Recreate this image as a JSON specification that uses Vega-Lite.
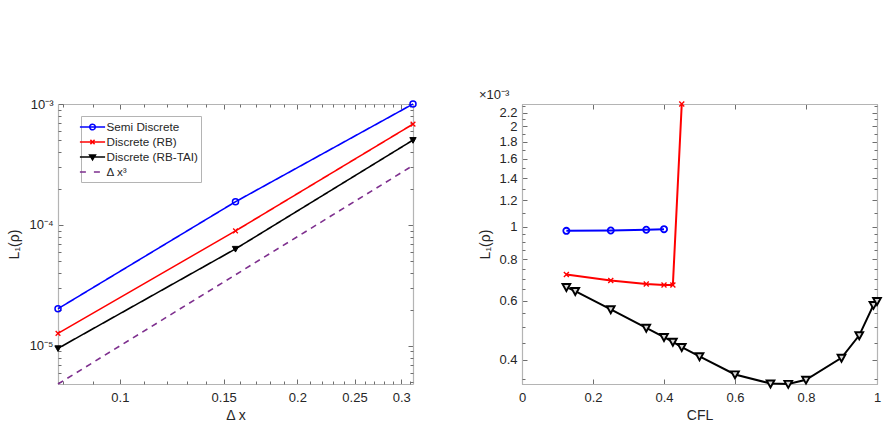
{
  "$schema": "https://vega.github.io/schema/vega-lite/v6.json",
  "background": "white",
  "padding": {"left": 7, "top": 88, "right": 5, "bottom": 5},
  "bounds": "flush",
  "spacing": 109,
  "config": {
    "view": {"stroke": null},
    "font": "Liberation Sans",
    "axis": {
      "grid": false,
      "labelFont": "Liberation Sans",
      "labelFontSize": 13,
      "labelColor": "#262626",
      "titleFont": "Liberation Sans",
      "titleFontSize": 14,
      "titleFontWeight": "normal",
      "titleColor": "#262626",
      "domainColor": "#b4b4b4",
      "domainWidth": 1.2,
      "tickColor": "#6e6e6e",
      "tickWidth": 1,
      "tickSize": -5,
      "labelPadding": 10,
      "labelFlush": false,
      "labelOverlap": false
    }
  },
  "datasets": {
    "convergence": [
      {"series": "Semi Discrete", "dx": 0.0785398, "L1": 0.0000203},
      {"series": "Semi Discrete", "dx": 0.1570796, "L1": 0.0001556},
      {"series": "Semi Discrete", "dx": 0.3141593, "L1": 0.0010000},
      {"series": "Discrete (RB)", "dx": 0.0785398, "L1": 0.0000127},
      {"series": "Discrete (RB)", "dx": 0.1570796, "L1": 0.0000893},
      {"series": "Discrete (RB)", "dx": 0.3141593, "L1": 0.000682},
      {"series": "Discrete (RB-TAI)", "dx": 0.0785398, "L1": 0.00000955},
      {"series": "Discrete (RB-TAI)", "dx": 0.1570796, "L1": 0.0000634},
      {"series": "Discrete (RB-TAI)", "dx": 0.3141593, "L1": 0.000503},
      {"series": "Δ x³", "dx": 0.0785398, "L1": 0.000004845},
      {"series": "Δ x³", "dx": 0.1570796, "L1": 0.00003876},
      {"series": "Δ x³", "dx": 0.3141593, "L1": 0.0003101}
    ],
    "stability": [
      {"series": "Semi Discrete", "cfl": 0.125, "L1": 0.000973},
      {"series": "Semi Discrete", "cfl": 0.25, "L1": 0.000975},
      {"series": "Semi Discrete", "cfl": 0.35, "L1": 0.000980},
      {"series": "Semi Discrete", "cfl": 0.4, "L1": 0.000984},
      {"series": "Discrete (RB)", "cfl": 0.125, "L1": 0.000720},
      {"series": "Discrete (RB)", "cfl": 0.25, "L1": 0.000691},
      {"series": "Discrete (RB)", "cfl": 0.35, "L1": 0.000674},
      {"series": "Discrete (RB)", "cfl": 0.4, "L1": 0.000669},
      {"series": "Discrete (RB)", "cfl": 0.425, "L1": 0.000669},
      {"series": "Discrete (RB)", "cfl": 0.45, "L1": 0.002335},
      {"series": "Discrete (RB-TAI)", "cfl": 0.125, "L1": 0.000660},
      {"series": "Discrete (RB-TAI)", "cfl": 0.15, "L1": 0.000642},
      {"series": "Discrete (RB-TAI)", "cfl": 0.25, "L1": 0.000566},
      {"series": "Discrete (RB-TAI)", "cfl": 0.35, "L1": 0.000498},
      {"series": "Discrete (RB-TAI)", "cfl": 0.4, "L1": 0.000467},
      {"series": "Discrete (RB-TAI)", "cfl": 0.425, "L1": 0.000452},
      {"series": "Discrete (RB-TAI)", "cfl": 0.45, "L1": 0.000436},
      {"series": "Discrete (RB-TAI)", "cfl": 0.5, "L1": 0.000409},
      {"series": "Discrete (RB-TAI)", "cfl": 0.6, "L1": 0.000361},
      {"series": "Discrete (RB-TAI)", "cfl": 0.7, "L1": 0.000339},
      {"series": "Discrete (RB-TAI)", "cfl": 0.75, "L1": 0.000338},
      {"series": "Discrete (RB-TAI)", "cfl": 0.8, "L1": 0.000348},
      {"series": "Discrete (RB-TAI)", "cfl": 0.9, "L1": 0.000405},
      {"series": "Discrete (RB-TAI)", "cfl": 0.95, "L1": 0.000473},
      {"series": "Discrete (RB-TAI)", "cfl": 0.99, "L1": 0.000583},
      {"series": "Discrete (RB-TAI)", "cfl": 1.0, "L1": 0.000599}
    ]
  },
  "hconcat": [
    {
      "width": 355,
      "height": 280,
      "data": {"name": "convergence"},
      "resolve": {"axis": {"x": "independent", "y": "independent"}},
      "layer": [
        {
          "mark": {"type": "line", "strokeWidth": 1.6},
          "encoding": {
            "x": {"field": "dx", "type": "quantitative",
                  "scale": {"type": "log", "domain": [0.0785398, 0.3141593], "nice": false, "zero": false},
                  "axis": {"orient": "bottom", "title": "Δ x", "values": [0.1, 0.15, 0.2, 0.25, 0.3], "format": "~g", "labelPadding": 12, "titlePadding": 4}},
            "y": {"field": "L1", "type": "quantitative",
                  "scale": {"type": "log", "domain": [0.000004845, 0.001], "nice": false, "zero": false},
                  "axis": {"orient": "left", "title": "L₁(ρ)", "values": [0.00001, 0.0001, 0.001],
                           "labelExpr": "datum.value > 0.0005 ? '10⁻³' : datum.value > 0.00005 ? '10⁻⁴' : '10⁻⁵'", "titlePadding": 7}},
            "color": {"field": "series", "type": "nominal",
                      "scale": {"domain": ["Semi Discrete", "Discrete (RB)", "Discrete (RB-TAI)", "Δ x³"],
                                "range": ["#0000ff", "#ff0000", "#000000", "#7e2f8e"]},
                      "legend": {
                        "orient": "none", "legendX": 23, "legendY": 12,
                        "title": null,
                        "direction": "vertical",
                        "fillColor": "white",
                        "strokeColor": "#b4b4b4",
                        "padding": 3,
                        "labelFont": "Liberation Sans",
                        "labelFontSize": 11.7,
                        "labelColor": "#262626",
                        "symbolSize": 196,
                        "symbolStrokeWidth": 1.5,
                        "symbolOffset": 0.5,
                        "labelOffset": 6,
                        "rowPadding": 0,
                        "encoding": {
                          "symbols": {
                            "shape": {"value": {"expr": "datum.value === 'Semi Discrete' ? 'M-1.8,0H1.8M-0.4,0A0.4,0.4 0 1,0 0.4,0A0.4,0.4 0 1,0 -0.4,0' : datum.value === 'Discrete (RB)' ? 'M-1.8,0H1.8M-0.3,-0.3L0.3,0.3M-0.3,0.3L0.3,-0.3' : datum.value === 'Discrete (RB-TAI)' ? 'M-1.8,0H1.8M-0.42,-0.3L0.42,-0.3L0,0.4Z' : 'M-1.8,0H1.8'"}},
                            "fill": {"value": {"expr": "datum.value === 'Discrete (RB-TAI)' ? '#000000' : 'transparent'"}},
                            "stroke": {"value": {"expr": "datum.value === 'Semi Discrete' ? '#0000ff' : datum.value === 'Discrete (RB)' ? '#ff0000' : datum.value === 'Discrete (RB-TAI)' ? '#000000' : '#7e2f8e'"}},
                            "strokeDash": {"value": {"expr": "datum.value === 'Δ x³' ? [6, 8] : [1, 0]"}},
                            "strokeWidth": {"value": 1.5},
                            "opacity": {"value": 1}
                          }
                        }
                      }},
            "strokeDash": {"field": "series", "type": "nominal",
                           "scale": {"domain": ["Semi Discrete", "Discrete (RB)", "Discrete (RB-TAI)", "Δ x³"],
                                     "range": [[1, 0], [1, 0], [1, 0], [6, 5]]},
                           "legend": null}
          }
        },
        {
          "transform": [{"filter": "datum.series === 'Semi Discrete'"}],
          "mark": {"type": "point", "shape": "circle", "filled": false, "stroke": "#0000ff", "strokeWidth": 1.5, "size": 36, "opacity": 1},
          "encoding": {
            "x": {"field": "dx", "type": "quantitative", "scale": {"type": "log", "domain": [0.0785398, 0.3141593], "nice": false, "zero": false}, "axis": null},
            "y": {"field": "L1", "type": "quantitative", "scale": {"type": "log", "domain": [0.000004845, 0.001], "nice": false, "zero": false}, "axis": null}
          }
        },
        {
          "transform": [{"filter": "datum.series === 'Discrete (RB)'"}],
          "mark": {"type": "point", "shape": "M-1,-1L1,1M-1,1L1,-1", "filled": false, "stroke": "#ff0000", "strokeWidth": 1.3, "size": 22, "opacity": 1},
          "encoding": {
            "x": {"field": "dx", "type": "quantitative", "scale": {"type": "log", "domain": [0.0785398, 0.3141593], "nice": false, "zero": false}, "axis": null},
            "y": {"field": "L1", "type": "quantitative", "scale": {"type": "log", "domain": [0.000004845, 0.001], "nice": false, "zero": false}, "axis": null}
          }
        },
        {
          "transform": [{"filter": "datum.series === 'Discrete (RB-TAI)'"}],
          "mark": {"type": "point", "shape": "M-1,-0.8L1,-0.8L0,1Z", "filled": true, "fill": "#000000", "stroke": "#000000", "strokeWidth": 1, "size": 40, "opacity": 1},
          "encoding": {
            "x": {"field": "dx", "type": "quantitative", "scale": {"type": "log", "domain": [0.0785398, 0.3141593], "nice": false, "zero": false}, "axis": null},
            "y": {"field": "L1", "type": "quantitative", "scale": {"type": "log", "domain": [0.000004845, 0.001], "nice": false, "zero": false}, "axis": null}
          }
        },
        {
          "mark": {"type": "point", "opacity": 0},
          "encoding": {
            "x": {"field": "dx", "type": "quantitative", "scale": {"type": "log", "domain": [0.0785398, 0.3141593], "nice": false, "zero": false},
                  "axis": {"orient": "top", "title": null, "labels": false, "values": [0.1, 0.15, 0.2, 0.25, 0.3]}},
            "y": {"field": "L1", "type": "quantitative", "scale": {"type": "log", "domain": [0.000004845, 0.001], "nice": false, "zero": false},
                  "axis": {"orient": "right", "title": null, "labels": false, "values": [0.00001, 0.0001, 0.001]}}
          }
        },
        {
          "mark": {"type": "point", "opacity": 0},
          "encoding": {
            "x": {"field": "dx", "type": "quantitative", "scale": {"type": "log", "domain": [0.0785398, 0.3141593], "nice": false, "zero": false},
                  "axis": {"orient": "bottom", "title": null, "labels": false, "domain": false, "tickSize": -3,
                           "values": [0.08, 0.09, 0.11, 0.12, 0.13, 0.14, 0.16, 0.17, 0.18, 0.19, 0.21, 0.22, 0.23, 0.24, 0.26, 0.27, 0.28, 0.29, 0.31]}},
            "y": {"field": "L1", "type": "quantitative", "scale": {"type": "log", "domain": [0.000004845, 0.001], "nice": false, "zero": false},
                  "axis": {"orient": "left", "title": null, "labels": false, "domain": false, "tickSize": -3,
                           "values": [0.000005, 0.000006, 0.000007, 0.000008, 0.000009, 0.00002, 0.00003, 0.00004, 0.00005, 0.00006, 0.00007, 0.00008, 0.00009, 0.0002, 0.0003, 0.0004, 0.0005, 0.0006, 0.0007, 0.0008, 0.0009]}}
          }
        },
        {
          "mark": {"type": "point", "opacity": 0},
          "encoding": {
            "x": {"field": "dx", "type": "quantitative", "scale": {"type": "log", "domain": [0.0785398, 0.3141593], "nice": false, "zero": false},
                  "axis": {"orient": "top", "title": null, "labels": false, "domain": false, "tickSize": -3,
                           "values": [0.08, 0.09, 0.11, 0.12, 0.13, 0.14, 0.16, 0.17, 0.18, 0.19, 0.21, 0.22, 0.23, 0.24, 0.26, 0.27, 0.28, 0.29, 0.31]}},
            "y": {"field": "L1", "type": "quantitative", "scale": {"type": "log", "domain": [0.000004845, 0.001], "nice": false, "zero": false},
                  "axis": {"orient": "right", "title": null, "labels": false, "domain": false, "tickSize": -3,
                           "values": [0.000005, 0.000006, 0.000007, 0.000008, 0.000009, 0.00002, 0.00003, 0.00004, 0.00005, 0.00006, 0.00007, 0.00008, 0.00009, 0.0002, 0.0003, 0.0004, 0.0005, 0.0006, 0.0007, 0.0008, 0.0009]}}
          }
        }
      ]
    },
    {
      "width": 355,
      "height": 280,
      "data": {"name": "stability"},
      "title": {"text": "×10⁻³", "anchor": "start", "fontSize": 13, "fontWeight": "normal", "font": "Liberation Sans", "color": "#262626", "offset": -3},
      "resolve": {"axis": {"x": "independent", "y": "independent"}},
      "layer": [
        {
          "mark": {"type": "line", "strokeWidth": 2},
          "encoding": {
            "x": {"field": "cfl", "type": "quantitative", "scale": {"domain": [0, 1], "nice": false, "zero": false},
                  "axis": {"orient": "bottom", "title": "CFL", "values": [0, 0.2, 0.4, 0.6, 0.8, 1], "format": "~g", "labelPadding": 12, "titlePadding": 4}},
            "y": {"field": "L1", "type": "quantitative", "scale": {"type": "log", "domain": [0.000338, 0.002335], "nice": false, "zero": false},
                  "axis": {"orient": "left", "title": "L₁(ρ)", "values": [0.0004, 0.0006, 0.0008, 0.001, 0.0012, 0.0014, 0.0016, 0.0018, 0.002, 0.0022],
                           "labelExpr": "format(datum.value * 1000, '~g')", "titlePadding": 6}},
            "color": {"field": "series", "type": "nominal",
                      "scale": {"domain": ["Semi Discrete", "Discrete (RB)", "Discrete (RB-TAI)"], "range": ["#0000ff", "#ff0000", "#000000"]},
                      "legend": null}
          }
        },
        {
          "transform": [{"filter": "datum.series === 'Semi Discrete'"}],
          "mark": {"type": "point", "shape": "circle", "filled": false, "stroke": "#0000ff", "strokeWidth": 1.8, "size": 38, "opacity": 1},
          "encoding": {
            "x": {"field": "cfl", "type": "quantitative", "scale": {"domain": [0, 1], "nice": false, "zero": false}, "axis": null},
            "y": {"field": "L1", "type": "quantitative", "scale": {"type": "log", "domain": [0.000338, 0.002335], "nice": false, "zero": false}, "axis": null}
          }
        },
        {
          "transform": [{"filter": "datum.series === 'Discrete (RB)'"}],
          "mark": {"type": "point", "shape": "M-1,-1L1,1M-1,1L1,-1", "filled": false, "stroke": "#ff0000", "strokeWidth": 1.4, "size": 25, "opacity": 1},
          "encoding": {
            "x": {"field": "cfl", "type": "quantitative", "scale": {"domain": [0, 1], "nice": false, "zero": false}, "axis": null},
            "y": {"field": "L1", "type": "quantitative", "scale": {"type": "log", "domain": [0.000338, 0.002335], "nice": false, "zero": false}, "axis": null}
          }
        },
        {
          "transform": [{"filter": "datum.series === 'Discrete (RB-TAI)'"}],
          "mark": {"type": "point", "shape": "M-1,-0.8L1,-0.8L0,1Z", "filled": true, "fill": "#d9d9d9", "stroke": "#000000", "strokeWidth": 1.9, "size": 60, "opacity": 1},
          "encoding": {
            "x": {"field": "cfl", "type": "quantitative", "scale": {"domain": [0, 1], "nice": false, "zero": false}, "axis": null},
            "y": {"field": "L1", "type": "quantitative", "scale": {"type": "log", "domain": [0.000338, 0.002335], "nice": false, "zero": false}, "axis": null}
          }
        },
        {
          "mark": {"type": "point", "opacity": 0},
          "encoding": {
            "x": {"field": "cfl", "type": "quantitative", "scale": {"domain": [0, 1], "nice": false, "zero": false},
                  "axis": {"orient": "top", "title": null, "labels": false, "values": [0, 0.2, 0.4, 0.6, 0.8, 1]}},
            "y": {"field": "L1", "type": "quantitative", "scale": {"type": "log", "domain": [0.000338, 0.002335], "nice": false, "zero": false},
                  "axis": {"orient": "right", "title": null, "labels": false, "values": [0.0004, 0.0006, 0.0008, 0.001, 0.0012, 0.0014, 0.0016, 0.0018, 0.002, 0.0022]}}
          }
        },
        {
          "mark": {"type": "point", "opacity": 0},
          "encoding": {
            "x": {"field": "cfl", "type": "quantitative", "scale": {"domain": [0, 1], "nice": false, "zero": false}, "axis": null},
            "y": {"field": "L1", "type": "quantitative", "scale": {"type": "log", "domain": [0.000338, 0.002335], "nice": false, "zero": false},
                  "axis": {"orient": "left", "title": null, "labels": false, "domain": false, "tickSize": -3,
                           "values": [0.00035, 0.00045, 0.0005, 0.00055, 0.00065, 0.0007, 0.00075, 0.00085, 0.0009, 0.00095, 0.0011, 0.0013, 0.0015, 0.0017, 0.0019, 0.0021, 0.0023]}}
          }
        },
        {
          "mark": {"type": "point", "opacity": 0},
          "encoding": {
            "x": {"field": "cfl", "type": "quantitative", "scale": {"domain": [0, 1], "nice": false, "zero": false}, "axis": null},
            "y": {"field": "L1", "type": "quantitative", "scale": {"type": "log", "domain": [0.000338, 0.002335], "nice": false, "zero": false},
                  "axis": {"orient": "right", "title": null, "labels": false, "domain": false, "tickSize": -3,
                           "values": [0.00035, 0.00045, 0.0005, 0.00055, 0.00065, 0.0007, 0.00075, 0.00085, 0.0009, 0.00095, 0.0011, 0.0013, 0.0015, 0.0017, 0.0019, 0.0021, 0.0023]}}
          }
        }
      ]
    }
  ]
}
